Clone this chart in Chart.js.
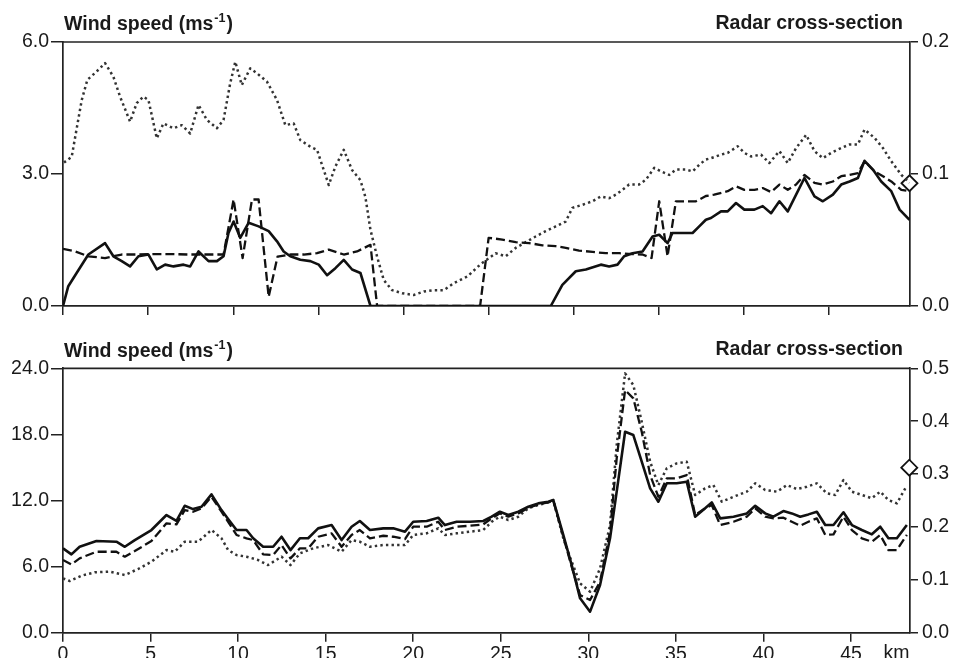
<!DOCTYPE html>
<html><head><meta charset="utf-8">
<script src="https://cdn.jsdelivr.net/npm/chart.js@4.4.1/dist/chart.umd.min.js"></script>
<style>
html,body{margin:0;padding:0;background:#fff;}
#wrap{position:relative;width:958px;height:658px;overflow:hidden;background:#fff;}
canvas{position:absolute;left:0;}
</style></head><body>
<div id="wrap">
<canvas id="topChart" width="958" height="330" style="top:0"></canvas>
<canvas id="botChart" width="958" height="328" style="top:330px"></canvas>
</div>
<script>
// ---------- DATA ----------
// distance (km), wind speed (m/s)
const topSolid = [[0,0],[0.31,0.45],[0.8,0.75],[1.49,1.17],[2.47,1.43],[2.96,1.13],[3.45,1.02],[3.94,0.9],[4.43,1.13],[5.02,1.17],[5.51,0.83],[6.0,0.94],[6.49,0.9],[7.08,0.94],[7.47,0.9],[7.96,1.24],[8.55,1.02],[9.04,1.02],[9.43,1.13],[9.72,1.66],[10.02,1.92],[10.41,1.55],[10.9,1.89],[11.49,1.81],[12.08,1.7],[12.57,1.47],[12.96,1.24],[13.35,1.13],[13.94,1.05],[14.53,1.02],[15.02,0.94],[15.51,0.7],[16.0,0.86],[16.49,1.05],[16.98,0.83],[17.47,0.75],[18.06,0],[28.65,0],[29.33,0.48],[30.12,0.79],[30.71,0.83],[31.59,0.94],[32.08,0.9],[32.57,0.94],[32.96,1.13],[33.45,1.2],[34.04,1.24],[34.63,1.58],[35.02,1.62],[35.51,1.43],[35.8,1.66],[36.39,1.66],[36.98,1.66],[37.37,1.81],[37.76,1.96],[38.06,2.0],[38.65,2.15],[39.04,2.15],[39.53,2.34],[40.02,2.19],[40.61,2.19],[41.1,2.27],[41.59,2.11],[42.08,2.38],[42.57,2.15],[43.06,2.53],[43.55,2.91],[44.14,2.49],[44.63,2.38],[45.22,2.53],[45.71,2.76],[46.2,2.83],[46.69,2.91],[47.08,3.3],[47.57,3.1],[48.06,2.83],[48.65,2.61],[49.14,2.19],[49.72,1.96]];
const topDashed = [[0,1.3],[0.71,1.24],[1.49,1.13],[2.47,1.09],[3.45,1.17],[4.43,1.17],[5.41,1.18],[6.39,1.18],[7.37,1.17],[8.35,1.17],[9.43,1.17],[10.02,2.42],[10.55,1.09],[11.1,2.42],[11.49,2.42],[12.08,0.21],[12.6,1.12],[13.35,1.17],[14.14,1.17],[14.92,1.2],[15.61,1.28],[16.49,1.17],[17.27,1.24],[18.06,1.39],[18.45,0],[24.5,0],[25.0,1.55],[25.8,1.51],[26.59,1.45],[27.37,1.43],[28.16,1.38],[28.94,1.36],[29.53,1.32],[30.31,1.26],[31.1,1.23],[31.88,1.2],[32.67,1.2],[33.45,1.18],[34.04,1.17],[34.57,1.09],[35.02,2.38],[35.51,1.13],[36.0,2.38],[36.59,2.38],[37.18,2.38],[37.76,2.5],[38.25,2.53],[39.04,2.61],[39.53,2.72],[40.02,2.64],[40.61,2.64],[41.1,2.68],[41.59,2.59],[42.08,2.76],[42.57,2.64],[43.06,2.76],[43.55,2.98],[44.14,2.8],[44.63,2.76],[45.22,2.83],[45.71,2.95],[46.2,2.98],[46.69,3.02],[47.08,3.29],[47.67,3.06],[48.16,2.95],[48.65,2.83],[49.24,2.64],[49.72,2.61]];
const topDotted = [[0.06,3.26],[0.51,3.39],[1.1,4.68],[1.43,5.14],[1.98,5.33],[2.47,5.52],[2.96,5.21],[3.35,4.76],[3.94,4.19],[4.33,4.61],[4.72,4.76],[5.02,4.68],[5.51,3.81],[5.9,4.15],[6.49,4.04],[6.98,4.11],[7.47,3.92],[7.96,4.57],[8.45,4.23],[9.04,4.04],[9.43,4.23],[9.82,5.06],[10.12,5.55],[10.5,5.02],[11.0,5.4],[11.39,5.29],[11.98,5.1],[12.57,4.68],[13.06,4.11],[13.55,4.15],[13.94,3.77],[14.53,3.62],[14.92,3.55],[15.61,2.75],[16.0,3.17],[16.49,3.55],[16.98,3.09],[17.47,2.86],[17.76,2.48],[18.06,1.73],[18.45,1.12],[18.84,0.59],[19.33,0.36],[19.92,0.29],[20.6,0.25],[21.2,0.33],[21.78,0.36],[22.37,0.36],[22.96,0.52],[23.75,0.67],[24.53,0.95],[25.41,1.2],[26.0,1.13],[26.59,1.32],[27.18,1.45],[27.76,1.58],[28.35,1.7],[28.94,1.81],[29.53,1.92],[29.92,2.23],[30.51,2.3],[31.1,2.38],[31.59,2.49],[32.08,2.45],[32.47,2.53],[32.86,2.64],[33.25,2.76],[33.84,2.76],[34.24,2.87],[34.73,3.14],[35.12,3.06],[35.61,2.98],[36.0,3.1],[36.59,3.1],[36.98,3.06],[37.37,3.21],[37.76,3.33],[38.06,3.36],[38.65,3.44],[39.04,3.48],[39.63,3.63],[40.02,3.48],[40.41,3.4],[41.0,3.44],[41.49,3.25],[42.08,3.52],[42.57,3.25],[43.06,3.59],[43.65,3.89],[44.14,3.52],[44.63,3.36],[45.12,3.48],[45.71,3.59],[46.2,3.67],[46.69,3.67],[47.08,4.01],[47.67,3.82],[48.16,3.59],[48.65,3.29],[49.24,2.98],[49.72,2.8]];
const topRadar = [[49.72,0.093]];

const botSolid = [[0,7.66],[0.48,7.11],[0.95,7.8],[1.91,8.32],[3.05,8.26],[3.53,7.8],[4.1,8.41],[5.05,9.32],[5.91,10.68],[6.48,10.14],[6.95,11.52],[7.43,11.22],[7.91,11.43],[8.48,12.56],[9.05,11.13],[9.43,10.32],[9.91,9.32],[10.48,9.32],[10.86,8.57],[11.43,7.8],[12.0,7.8],[12.48,8.71],[12.99,7.5],[13.53,8.57],[14.0,8.57],[14.57,9.47],[15.34,9.77],[15.91,8.41],[16.48,9.62],[16.95,10.14],[17.53,9.32],[18.29,9.47],[18.86,9.47],[19.53,9.17],[20.0,10.07],[20.77,10.14],[21.43,10.44],[21.81,9.77],[22.48,10.07],[23.24,10.07],[24.0,10.14],[24.48,10.53],[24.95,10.98],[25.43,10.68],[26.0,10.98],[26.57,11.43],[27.14,11.74],[27.71,11.89],[28.0,12.04],[28.57,8.87],[29.05,6.14],[29.53,3.12],[30.1,1.91],[30.67,4.33],[31.24,8.57],[31.62,12.8],[32.1,18.24],[32.57,17.94],[33.05,15.52],[33.53,13.1],[34.0,11.89],[34.48,13.56],[35.05,13.56],[35.62,13.7],[36.1,10.53],[36.67,11.29],[37.05,11.83],[37.53,10.38],[38.29,10.53],[39.05,10.83],[39.53,11.52],[40.1,10.83],[40.57,10.53],[41.14,11.04],[41.62,10.83],[42.1,10.53],[42.57,10.74],[43.05,10.98],[43.53,9.77],[44.0,9.77],[44.57,10.93],[45.05,9.77],[45.62,9.32],[46.19,8.93],[46.67,9.62],[47.14,8.57],[47.62,8.57],[48.19,9.77]];
const botDashed = [[0,6.6],[0.48,6.2],[0.95,6.75],[1.91,7.35],[3.05,7.35],[3.53,6.9],[4.1,7.41],[5.05,8.32],[5.91,9.93],[6.48,9.83],[6.95,11.13],[7.43,10.98],[7.91,11.29],[8.48,12.34],[9.05,10.98],[9.43,10.07],[9.91,8.87],[10.48,8.57],[10.86,8.41],[11.43,7.11],[12.0,7.05],[12.48,7.96],[12.99,6.75],[13.53,7.66],[14.0,7.66],[14.57,8.71],[15.34,9.02],[15.91,7.8],[16.48,8.87],[16.95,9.32],[17.53,8.57],[18.29,8.8],[18.86,8.71],[19.53,8.5],[20.0,9.62],[20.77,9.62],[21.43,10.07],[21.81,9.32],[22.48,9.62],[23.24,9.71],[24.0,9.83],[24.48,10.38],[24.95,10.83],[25.43,10.53],[26.0,10.83],[26.57,11.34],[27.14,11.64],[27.71,11.83],[28.0,11.98],[28.57,8.72],[29.05,6.0],[29.53,3.42],[30.1,2.97],[30.67,4.63],[31.24,9.17],[31.62,15.82],[32.1,22.02],[32.57,21.27],[33.05,18.24],[33.53,14.31],[34.0,12.34],[34.48,14.01],[35.05,14.01],[35.62,14.31],[36.1,10.68],[36.67,11.29],[37.05,11.59],[37.53,9.77],[38.29,10.07],[39.05,10.53],[39.53,11.29],[40.1,10.53],[40.57,10.38],[41.14,10.44],[41.62,10.07],[42.1,9.71],[42.57,10.07],[43.05,10.38],[43.53,8.87],[44.0,8.93],[44.57,10.53],[45.05,9.32],[45.62,8.57],[46.19,8.26],[46.67,8.87],[47.14,7.5],[47.62,7.5],[48.19,8.87]];
const botDotted = [[0,4.93],[0.38,4.69],[1.05,5.17],[1.81,5.48],[2.67,5.54],[3.53,5.24],[4.29,5.78],[5.05,6.44],[5.91,7.5],[6.38,7.35],[6.95,8.26],[7.71,8.26],[8.48,9.32],[9.05,8.57],[9.43,7.5],[9.91,7.05],[10.48,6.9],[11.14,6.6],[11.71,6.14],[12.48,6.9],[12.99,6.14],[13.53,7.2],[14.29,7.66],[15.14,7.96],[15.91,7.35],[16.48,8.41],[16.95,8.26],[17.53,7.8],[18.29,7.96],[18.86,7.96],[19.53,7.96],[20.0,8.87],[20.77,9.02],[21.43,9.47],[21.81,8.87],[22.48,9.02],[23.24,9.17],[24.0,9.32],[24.48,10.07],[24.95,10.53],[25.43,10.23],[26.0,10.53],[26.57,11.29],[27.14,11.59],[27.71,11.83],[28.0,12.04],[28.57,8.57],[29.05,6.44],[29.53,4.48],[30.1,3.72],[30.67,5.84],[31.24,9.77],[31.62,17.03],[32.1,23.54],[32.57,22.48],[33.05,19.15],[33.53,15.52],[34.0,13.4],[34.48,14.92],[35.05,15.37],[35.62,15.52],[36.1,12.5],[36.67,13.1],[37.14,13.4],[37.62,11.89],[38.29,12.34],[39.05,12.8],[39.53,13.56],[40.1,12.95],[40.77,12.8],[41.34,13.4],[41.91,13.04],[42.48,13.25],[43.05,13.56],[43.62,12.65],[44.1,12.5],[44.57,13.86],[45.05,12.8],[45.62,12.5],[46.19,12.2],[46.67,12.8],[47.14,12.04],[47.62,11.74],[48.1,13.1]];
const botRadar = [[48.33,0.312]];

const topXMax = 49.75, botXMax = 48.37;
const topWindTicks = [0, 3, 6], topRadarTicks = [0, 0.1, 0.2];
const botWindTicks = [0, 6, 12, 18, 24], botRadarTicks = [0, 0.1, 0.2, 0.3, 0.4, 0.5];
const xTickKm = [0, 5, 10, 15, 20, 25, 30, 35, 40, 45];
const leftTitle = 'Wind speed (ms', leftSup = '-1', rightTitle = 'Radar cross-section', xUnit = 'km';

// ---------- HELPERS ----------
const xy = arr => arr.map(p => ({x: p[0], y: p[1]}));
const INK = '#1a1a1a';
const TICKFONT = {family: 'Liberation Sans, Arial, sans-serif', size: 19.5};

function lineSet(arr, kind) {
  const base = {data: xy(arr), yAxisID: 'y', pointRadius: 0, borderWidth: 2.6, borderColor: '#111', fill: false, tension: 0, borderJoinStyle: 'round'};
  if (kind === 'dash') { base.borderDash = [9, 4]; base.borderWidth = 2.3; }
  if (kind === 'dot') { base.borderDash = [2.4, 3.2]; base.borderColor = '#333'; base.borderWidth = 2.5; }
  return base;
}
function radarSet(arr) {
  return {data: xy(arr), yAxisID: 'y1', showLine: false, pointStyle: 'rectRot', pointRadius: 8,
    pointBackgroundColor: '#fff', pointBorderColor: '#111', pointBorderWidth: 1.8, clip: false};
}
function yScale(ticksArr, pos, width, tickLen, pad) {
  const max = ticksArr[ticksArr.length - 1];
  return {
    type: 'linear', position: pos, min: 0, max: max,
    afterBuildTicks: s => { s.ticks = ticksArr.map(v => ({value: v})); },
    afterFit: s => { s.width = width; },
    ticks: {font: TICKFONT, color: INK, padding: pad, callback: v => Number(v).toFixed(1)},
    grid: {drawOnChartArea: false, drawTicks: true, tickLength: tickLen, color: '#222', lineWidth: 1.5},
    border: {display: true, color: '#222', width: 1.7}
  };
}
function xScale(max, height, showLabels) {
  return {
    type: 'linear', position: 'bottom', min: 0, max: max,
    afterBuildTicks: s => { s.ticks = xTickKm.map(v => ({value: v})); },
    afterFit: s => { s.height = height; },
    ticks: {display: showLabels, font: TICKFONT, color: INK, padding: 1, maxRotation: 0, autoSkip: false, callback: v => String(v)},
    grid: {drawOnChartArea: false, drawTicks: true, tickLength: 9, color: '#222', lineWidth: 1.5},
    border: {display: true, color: '#222', width: 1.7}
  };
}
function decorPlugin(titleBase, radarBase, showKm) {
  return {
    id: 'decor',
    afterDraw(chart) {
      const c = chart.ctx, a = chart.chartArea;
      c.save();
      c.strokeStyle = '#222'; c.lineWidth = 1.7;
      c.beginPath(); c.moveTo(a.left, a.top); c.lineTo(a.right, a.top); c.stroke();
      c.fillStyle = INK; c.textBaseline = 'alphabetic';
      const big = 'bold 19.5px "Liberation Sans", Arial, sans-serif';
      const sup = 'bold 12.5px "Liberation Sans", Arial, sans-serif';
      c.font = big; c.textAlign = 'left';
      let x = a.left + 1;
      c.fillText(leftTitle, x, titleBase); x += c.measureText(leftTitle).width + 1;
      c.font = sup; c.fillText(leftSup, x, titleBase - 8); x += c.measureText(leftSup).width + 1;
      c.font = big; c.fillText(')', x, titleBase);
      c.textAlign = 'right';
      c.fillText(rightTitle, a.right - 7, radarBase);
      if (showKm) {
        c.font = '19.5px "Liberation Sans", Arial, sans-serif';
        c.textAlign = 'center'; c.textBaseline = 'top';
        c.fillText(xUnit, chart.scales.x.getPixelForValue(47.6), a.bottom + 11);
      }
      c.restore();
    }
  };
}
function makeChart(id, sets, xMax, xH, showX, windTicks, radarTicks, padTop, tb, rb, km) {
  return new Chart(document.getElementById(id), {
    type: 'line',
    data: {datasets: sets},
    options: {
      responsive: false, animation: false, devicePixelRatio: 1,
      layout: {padding: {top: padTop, left: 0, right: 0, bottom: 0}},
      plugins: {legend: {display: false}, tooltip: {enabled: false}},
      scales: {
        x: xScale(xMax, xH, showX),
        y: yScale(windTicks, 'left', 63, 12, 2),
        y1: yScale(radarTicks, 'right', 48, 8, 4)
      }
    },
    plugins: [decorPlugin(tb, rb, km)]
  });
}

makeChart('topChart',
  [lineSet(topSolid, 'solid'), lineSet(topDashed, 'dash'), lineSet(topDotted, 'dot'), radarSet(topRadar)],
  topXMax, 24, false, topWindTicks, topRadarTicks, 42, 30, 29, false);
makeChart('botChart',
  [lineSet(botSolid, 'solid'), lineSet(botDashed, 'dash'), lineSet(botDotted, 'dot'), radarSet(botRadar)],
  botXMax, 25.3, true, botWindTicks, botRadarTicks, 38.3, 27, 25, true);
</script>
</body></html>
